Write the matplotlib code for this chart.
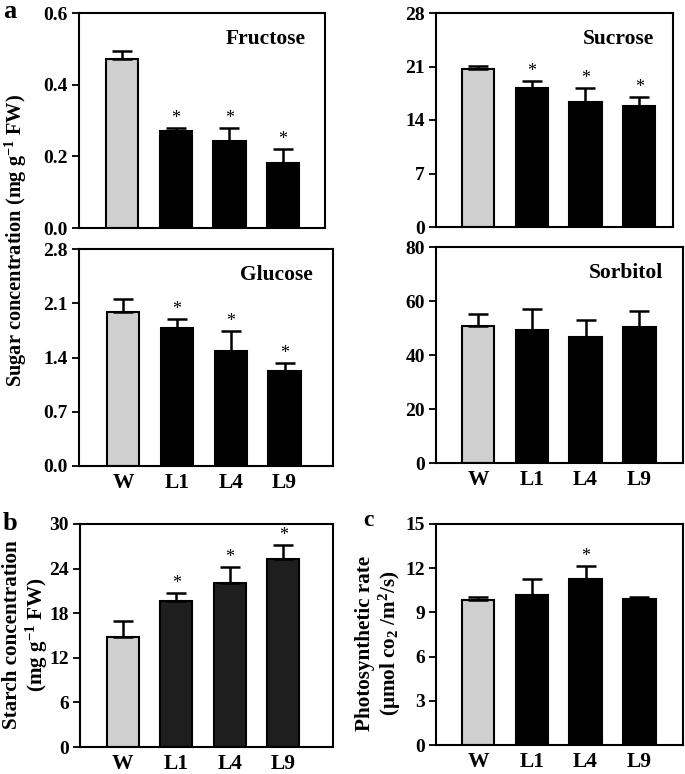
import matplotlib
matplotlib.use("Agg")
import matplotlib.pyplot as plt
import numpy as np

plt.rcParams['font.family'] = ['Liberation Serif', 'DejaVu Serif']
plt.rcParams['font.weight'] = 'bold'
plt.rcParams['mathtext.fontset'] = 'custom'
plt.rcParams['mathtext.rm'] = 'Liberation Serif:bold'
plt.rcParams['mathtext.it'] = 'Liberation Serif:bold'
plt.rcParams['mathtext.bf'] = 'Liberation Serif:bold'

lines = ["W", "L1", "L4", "L9"]

fructose = [0.471, 0.270, 0.243, 0.181]
fructose_err = [0.022, 0.010, 0.036, 0.040]
fructose_sig = [False, True, True, True]

sucrose = [20.7, 18.15, 16.4, 15.8]
sucrose_err = [0.4, 0.95, 1.75, 1.15]
sucrose_sig = [False, True, True, True]

glucose = [1.99, 1.78, 1.48, 1.23]
glucose_err = [0.17, 0.12, 0.26, 0.10]
glucose_sig = [False, True, True, True]

sorbitol = [50.6, 49.1, 46.8, 50.4]
sorbitol_err = [4.6, 7.8, 6.2, 5.9]
sorbitol_sig = [False, False, False, False]

starch = [14.86, 19.6, 22.07, 25.27]
starch_err = [2.08, 1.09, 2.16, 1.89]
starch_sig = [False, True, True, True]

photo = [9.85, 10.17, 11.26, 9.89]
photo_err = [0.20, 1.13, 0.90, 0.18]
photo_sig = [False, False, True, False]

W, H = 685, 774
fig = plt.figure(figsize=(W / 100, H / 100), dpi=100)


def make_ax(l, r, t, b):
    return fig.add_axes([l / W, 1 - b / H, (r - l) / W, (b - t) / H])


def panel(ax, vals, errs, sig, ymax, step, title=None, dark='black',
          xl=(-0.8, 3.8), show_x=False, fmt='{:.1f}'):
    x = np.arange(len(lines))
    colors = ['#cfcfcf'] + [dark] * 3
    ax.bar(x, vals, width=0.6, color=colors, edgecolor='black', linewidth=1.5, zorder=2)
    ax.errorbar(x, vals, yerr=[np.zeros(len(vals)), errs], fmt='none',
                ecolor='black', elinewidth=1.8, capsize=7.5, capthick=1.8, zorder=3)
    for xi, v, e, s in zip(x, vals, errs, sig):
        if s:
            ax.text(xi, v + e + ymax * 0.005, '*', ha='center', va='bottom',
                    fontsize=13, fontweight='normal')
    ax.set_xlim(*xl)
    ax.set_ylim(0, ymax)
    ticks = np.arange(0, ymax + step / 2, step)
    ax.set_yticks(ticks)
    ax.set_yticklabels([fmt.format(t) for t in ticks], fontsize=14, fontweight='bold')
    ax.tick_params(axis='y', direction='out', length=5, width=1.3, pad=3)
    ax.set_xticks(x)
    if show_x:
        ax.set_xticklabels(lines, fontsize=15.5, fontweight='bold')
        ax.tick_params(axis='x', length=0, pad=5)
    else:
        ax.set_xticklabels([])
        ax.tick_params(axis='x', length=0)
    for sp in ax.spines.values():
        sp.set_linewidth(1.5)
    if title:
        ax.text(0.92, 0.88, title, transform=ax.transAxes, ha='right', va='center',
                fontsize=15.5, fontweight='bold')


ax1 = make_ax(79, 325, 13, 228)
panel(ax1, fructose, fructose_err, fructose_sig, 0.6, 0.2, 'Fructose', xl=(-0.8, 3.78))

ax2 = make_ax(436, 673, 13, 227)
panel(ax2, sucrose, sucrose_err, sucrose_sig, 28, 7, 'Sucrose', xl=(-0.78, 3.63), fmt='{:.0f}')

ax3 = make_ax(79, 333, 249, 466)
panel(ax3, glucose, glucose_err, glucose_sig, 2.8, 0.7, 'Glucose', xl=(-0.82, 3.9), show_x=True)

ax4 = make_ax(436, 683, 247, 463)
panel(ax4, sorbitol, sorbitol_err, sorbitol_sig, 80, 20, 'Sorbitol', xl=(-0.78, 3.81),
      show_x=True, fmt='{:.0f}')

ax5 = make_ax(80, 333, 524, 747)
panel(ax5, starch, starch_err, starch_sig, 30, 6, dark='#1e1e1e', xl=(-0.8, 3.93),
      show_x=True, fmt='{:.0f}')

ax6 = make_ax(436, 683, 524, 745)
panel(ax6, photo, photo_err, photo_sig, 15, 3, xl=(-0.78, 3.81), show_x=True, fmt='{:.0f}')

fig.text(16 / W, 1 - 240 / H, 'Sugar concentration (mg g$^{-1}$ FW)', rotation=90,
         ha='center', va='center', fontsize=14.7, fontweight='bold')
fig.text(26 / W, 1 - 635 / H, 'Starch concentration\n(mg g$^{-1}$ FW)', rotation=90,
         ha='center', va='center', fontsize=15.2, fontweight='bold', linespacing=1.05)
fig.text(379 / W, 1 - 643 / H, 'Photosynthetic rate\n(\u03bcmol co$_2$ /m$^2$/s)', rotation=90,
         ha='center', va='center', fontsize=15.2, fontweight='bold', linespacing=1.05)

fig.text(3 / W, 1 - 11 / H, 'a', fontsize=19, fontweight='bold', va='center', ha='left')
fig.text(3 / W, 1 - 523 / H, 'b', fontsize=19, fontweight='bold', va='center', ha='left')
fig.text(363 / W, 1 - 520 / H, 'c', fontsize=17, fontweight='bold', va='center', ha='left')

fig.savefig('out.png', dpi=100)
